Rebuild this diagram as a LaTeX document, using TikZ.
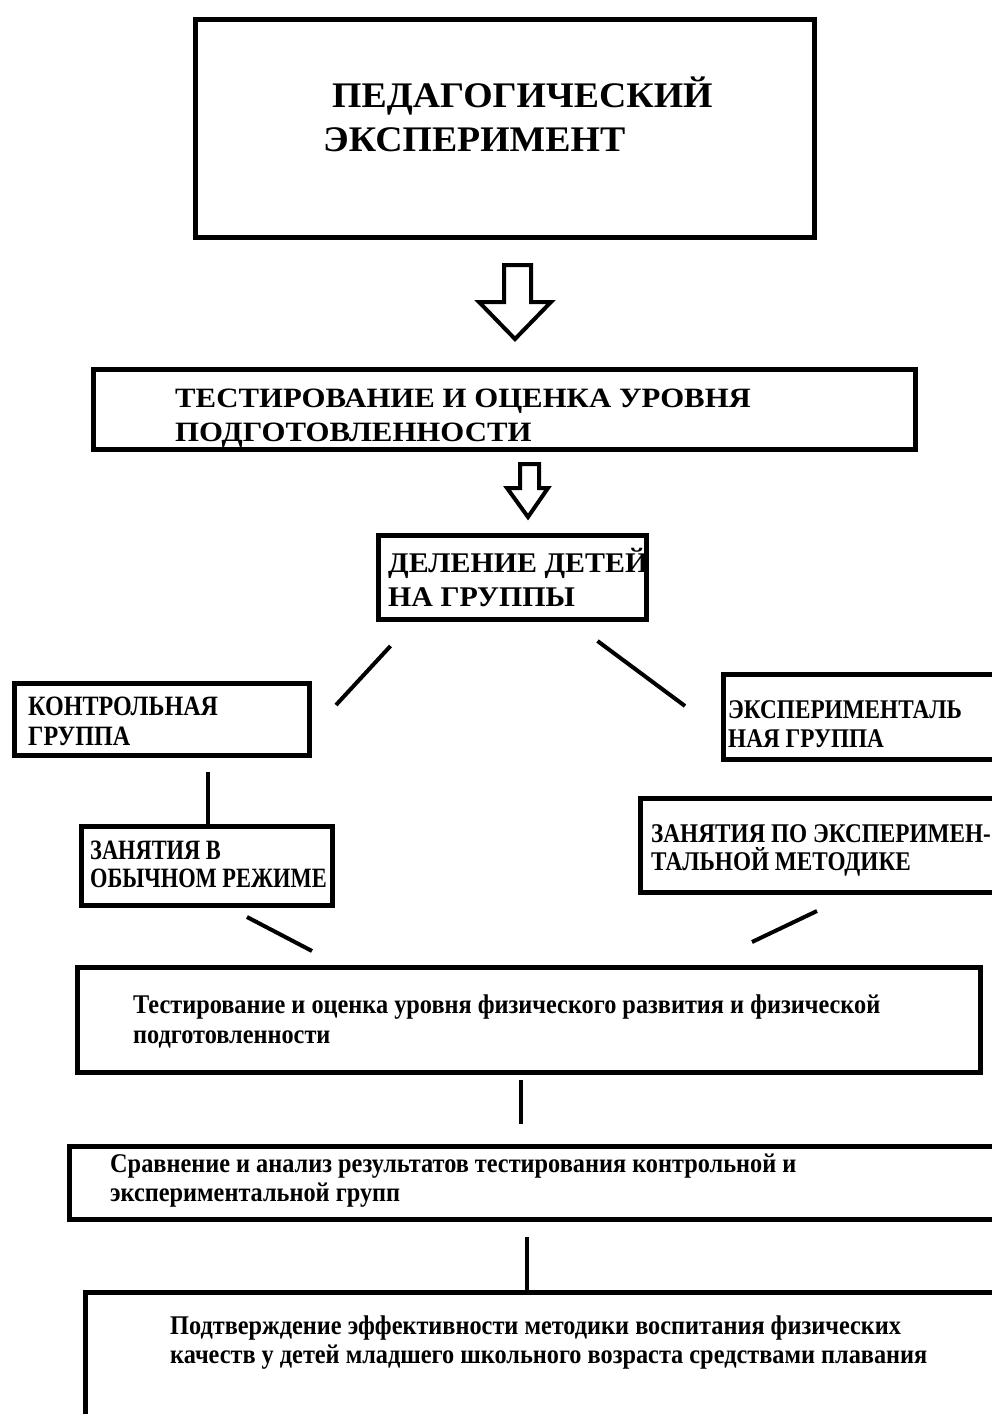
\documentclass[tikz,border=0pt]{standalone}
\usepackage{fontspec}
\setmainfont{Liberation Serif}
\newfontfamily\titlefont{Liberation Serif}[FakeStretch=1.05]
\newfontfamily\widefont{Liberation Serif}[FakeStretch=1.1]
\newfontfamily\narrowfont{Liberation Serif}[FakeStretch=0.86]
\newfontfamily\tightfont{Liberation Serif}[FakeStretch=0.8]
\newfontfamily\bodyfont{Liberation Serif}[FakeStretch=0.9]
\usetikzlibrary{calc}

\tikzstyle{box} = [rectangle, draw, line width=5pt, inner sep=0pt]
\tikzstyle{txt} = [anchor=base west, align=left, inner sep=0pt]
\tikzstyle{link} = [line width=4pt]
\tikzstyle{hollow} = [line width=4pt, line join=miter, fill=white]

\begin{document}
\begin{tikzpicture}[x=1pt, y=-1pt]
    \useasboundingbox (0,0) rectangle (992,1414);
    \clip (0,0) rectangle (992,1414);

    % Boxes
    \node[box, minimum width=619, minimum height=218] (ped) at (505,128.5) {};
    \node[box, minimum width=822, minimum height=80] (test) at (504.5,409.5) {};
    \node[box, minimum width=268, minimum height=84] (div) at (512.5,577.5) {};
    \node[box, minimum width=295, minimum height=72] (ctrl) at (162,719.5) {};
    \node[box, minimum width=284, minimum height=85] (expg) at (865.5,717) {};
    \node[box, minimum width=251, minimum height=79] (usual) at (207,866) {};
    \node[box, minimum width=367, minimum height=94] (method) at (824,845.5) {};
    \node[box, minimum width=903, minimum height=105] (retest) at (529,1020) {};
    \node[box, minimum width=938, minimum height=73] (compare) at (538.5,1183) {};
    \node[box, minimum width=922, minimum height=145] (confirm) at (546.5,1365) {};

    % Texts (placed at the baseline of the last line)
    \node[txt, font=\titlefont\fontsize{36}{44}\selectfont\bfseries] (pedtxt) at (323,151)
        {\hspace*{9pt}ПЕДАГОГИЧЕСКИЙ\\ЭКСПЕРИМЕНТ};
    \node[txt, font=\widefont\fontsize{28}{34}\selectfont\bfseries] (testtxt) at (175,441)
        {ТЕСТИРОВАНИЕ И ОЦЕНКА УРОВНЯ\\ПОДГОТОВЛЕННОСТИ};
    \node[txt, font=\titlefont\fontsize{28.5}{34}\selectfont\bfseries] (divtxt) at (388,606)
        {ДЕЛЕНИЕ ДЕТЕЙ\\НА ГРУППЫ};
    \node[txt, font=\narrowfont\fontsize{28}{30}\selectfont\bfseries] (ctrltxt) at (28,745)
        {КОНТРОЛЬНАЯ\\ГРУППА};
    \node[txt, font=\narrowfont\fontsize{27}{29}\selectfont\bfseries] (expgtxt) at (728,747)
        {ЭКСПЕРИМЕНТАЛЬ\\НАЯ ГРУППА};
    \node[txt, font=\tightfont\fontsize{28}{28}\selectfont\bfseries] (usualtxt) at (90,887)
        {ЗАНЯТИЯ В\\ОБЫЧНОМ РЕЖИМЕ};
    \node[txt, font=\narrowfont\fontsize{27}{28}\selectfont\bfseries] (methodtxt) at (651,870)
        {ЗАНЯТИЯ ПО ЭКСПЕРИМЕН-\\ТАЛЬНОЙ МЕТОДИКЕ};
    \node[txt, font=\bodyfont\fontsize{27}{30}\selectfont\bfseries] (retesttxt) at (133,1043)
        {Тестирование и оценка уровня физического развития и физической\\подготовленности};
    \node[txt, font=\bodyfont\fontsize{27}{29}\selectfont\bfseries] (comparetxt) at (110,1201)
        {Сравнение и анализ результатов тестирования контрольной и\\экспериментальной групп};
    \node[txt, font=\bodyfont\fontsize{27}{29}\selectfont\bfseries] (confirmtxt) at (170,1363)
        {Подтверждение эффективности методики воспитания физических\\качеств у детей младшего школьного возраста средствами плавания};

    % Hollow arrows
    \draw[hollow] (504,265) -- (531,265) -- (531,302) -- (551,302) -- (515,339)
        -- (479,302) -- (504,302) -- cycle;
    \draw[hollow] (520,464) -- (539,464) -- (539,488) -- (548,488) -- (528,517)
        -- (507,488) -- (520,488) -- cycle;

    % Links
    \draw[link] ($(div.south)+(-122,24)$) -- ($(ctrl.north east)+(24,24)$);
    \draw[link] ($(div.south)+(85,19)$) -- ($(expg.north west)+(-36,34)$);
    \draw[link] ($(ctrl.south)+(46,14)$) -- ($(usual.north)+(1,0)$);
    \draw[link] ($(usual.south)+(40,9)$) -- ($(retest.north west)+(237,-14)$);
    \draw[link] ($(method.south)+(-7,16)$) -- ($(retest.north east)+(-231,-23)$);
    \draw[link] ($(retest.south)+(-8,5)$) -- ($(compare.north)+(-17.5,-20)$);
    \draw[link] ($(compare.south)+(-11.5,15)$) -- ($(confirm.north)+(-19.5,0)$);
\end{tikzpicture}
\end{document}
